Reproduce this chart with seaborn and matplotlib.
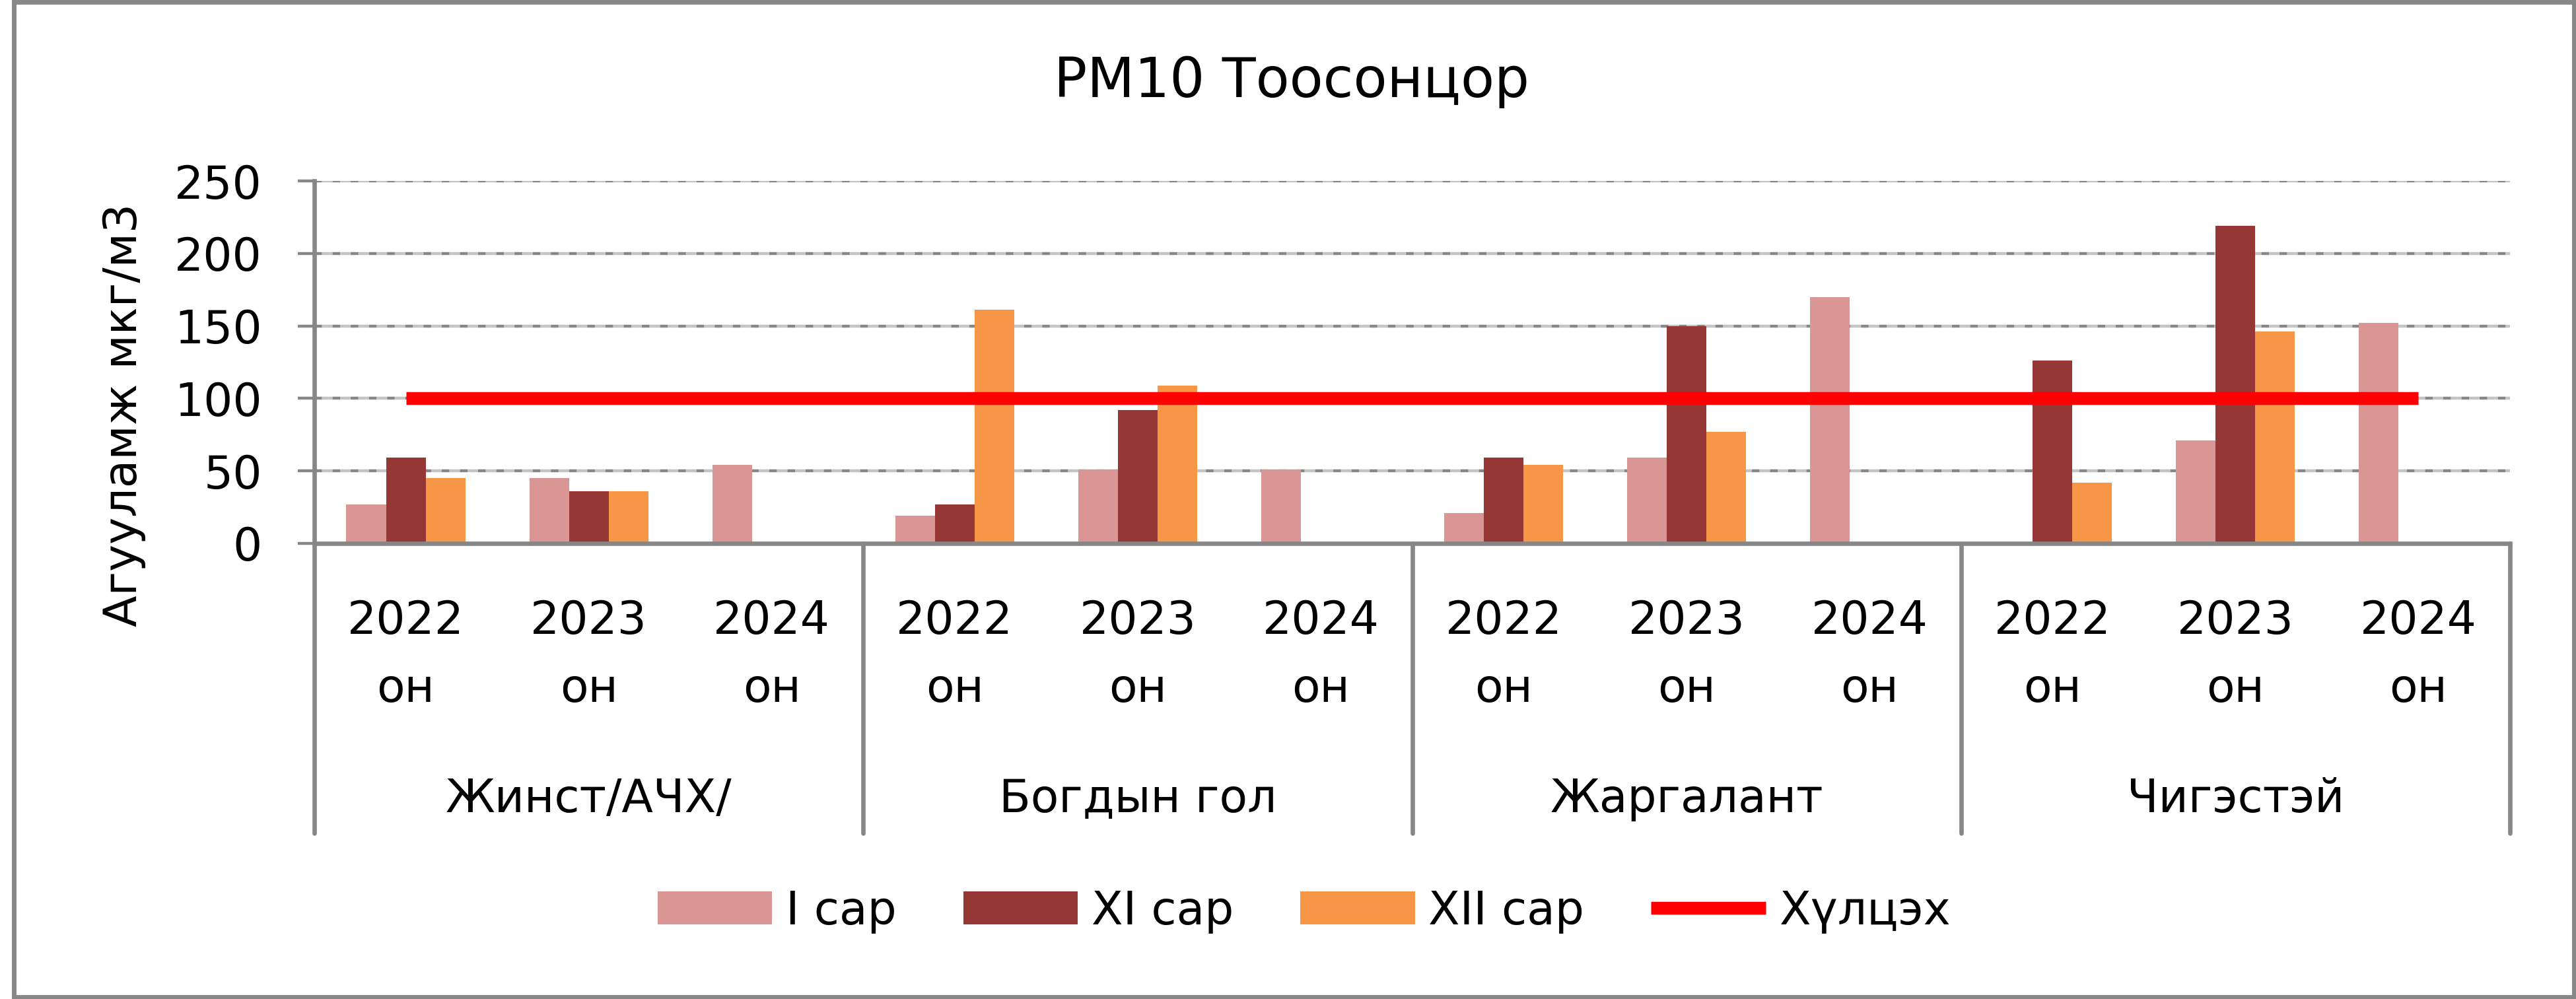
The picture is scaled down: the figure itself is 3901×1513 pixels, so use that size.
# PM10 dust concentration chart - grouped bars with a limit line

import numpy as np
import pandas as pd
import matplotlib
matplotlib.use('Agg')
import matplotlib.pyplot as plt
import seaborn as sns
from matplotlib.patches import Patch, Rectangle
from matplotlib.lines import Line2D

# ====================
#  DATA
# ====================

stations = ['Жинст/АЧХ/', 'Богдын гол', 'Жаргалант', 'Чигэстэй']
years = ['2022', '2023', '2024']
year_suffix = 'он'
series = ['I сар', 'XI сар', 'XII сар']
limit_label = 'Хүлцэх'

# one value per station/year, in station order then year order
jan_values = [27, 45, 54, 19, 51, 51, 21, 59, 170, np.nan, 71, 152]
nov_values = [59, 36, np.nan, 27, 92, np.nan, 59, 150, np.nan, 126, 219, np.nan]
dec_values = [45, 36, np.nan, 161, 109, np.nan, 54, 77, np.nan, 42, 146, np.nan]
limit_values = [100, 100, 100, 100, 100, 100, 100, 100, 100, 100, 100, 100]

y_ticks = [0, 50, 100, 150, 200, 250]

title = 'PM10 Тоосонцор'
y_label = 'Агууламж мкг/м3'

colors = ['#D99694', '#953735', '#F79646']
limit_color = '#FF0000'
axis_gray = '#878787'

# ====================
#  BUILD TABLE
# ====================

keys = [f'{s}|{y}' for s in stations for y in years]
rows = []
for name, vals in zip(series, [jan_values, nov_values, dec_values]):
    for k, v in zip(keys, vals):
        rows.append({'cat': k, 'series': name, 'value': v})
df = pd.DataFrame(rows).dropna()

# ====================
#  PLOT
# ====================

sns.set_style('white')
plt.rcParams['font.family'] = ['DejaVu Sans']
plt.rcParams['text.color'] = 'black'

W, H = 3901, 1513
fig = plt.figure(figsize=(W / 100, H / 100), dpi=100)
ax = fig.add_axes([476 / W, 690 / H, (3801 - 476) / W, (823 - 274) / H])

sns.barplot(data=df, x='cat', y='value', hue='series', order=keys,
            hue_order=series, palette=colors, width=0.65, gap=0,
            errorbar=None, legend=False, linewidth=0, saturation=1, ax=ax)

xpos = np.arange(len(keys))
ax.plot(xpos, limit_values, color=limit_color, lw=14, solid_capstyle='butt', zorder=4)

ax.set_xlim(-0.5, len(keys) - 0.5)
ax.set_ylim(0, 250)
ax.set_yticks(y_ticks)
ax.set_yticklabels([str(t) for t in y_ticks])
ax.set_xlabel('')
ax.set_ylabel('')
ax.set_xticks([])

ax.grid(axis='y', color=axis_gray, linestyle=(0, (2.6, 3.6)), gapcolor='#C4C4C4', linewidth=3.2)
ax.set_axisbelow(True)

for side in ['top', 'right']:
    ax.spines[side].set_visible(False)
for side in ['left', 'bottom']:
    ax.spines[side].set_color(axis_gray)
    ax.spines[side].set_linewidth(4.8)

ax.tick_params(axis='y', left=True, length=18, width=3.2, color=axis_gray,
               pad=39, labelsize=50, labelcolor='black')

# multi-level category labels
tr = ax.get_xaxis_transform()
for i, k in enumerate(keys):
    yr = k.split('|')[1]
    ax.text(i, -0.2495, yr, transform=tr, ha='center', va='baseline', fontsize=50)
    ax.text(i, -0.437, year_suffix, transform=tr, ha='center', va='baseline', fontsize=50)

n = len(years)
for g, s in enumerate(stations):
    ax.text(g * n + (n - 1) / 2, -0.741, s, transform=tr, ha='center', va='baseline', fontsize=50)

bounds = np.arange(len(stations) + 1) * n - 0.5
for b in bounds:
    ax.plot([b, b], [0, -0.80], transform=tr, color=axis_gray, lw=4.8, clip_on=False)

fig.text(1956 / W, 1 - 124 / H, title, ha='center', va='center', fontsize=60)
fig.text(188 / W, 1 - 628 / H, y_label, ha='center', va='center', rotation=90, fontsize=50)

handles = [Patch(facecolor=c, edgecolor='none') for c in colors]
handles.append(Line2D([0], [0], color=limit_color, lw=14, solid_capstyle='butt'))
leg = fig.legend(handles, series + [limit_label], loc='center', ncol=4, frameon=False,
                 bbox_to_anchor=(1975 / W, 1 - 1380 / H), bbox_transform=fig.transFigure,
                 fontsize=50, handlelength=2.5, handleheight=0.72, handletextpad=0.3,
                 columnspacing=1.45)
for t in leg.get_texts():
    t.set_color('black')

fig.patches.append(Rectangle((21 / W, 3 / H), (3898 - 21) / W, (1510 - 3) / H,
                             transform=fig.transFigure, fill=False,
                             edgecolor=axis_gray, lw=5))

fig.savefig('out.png', dpi=100)
